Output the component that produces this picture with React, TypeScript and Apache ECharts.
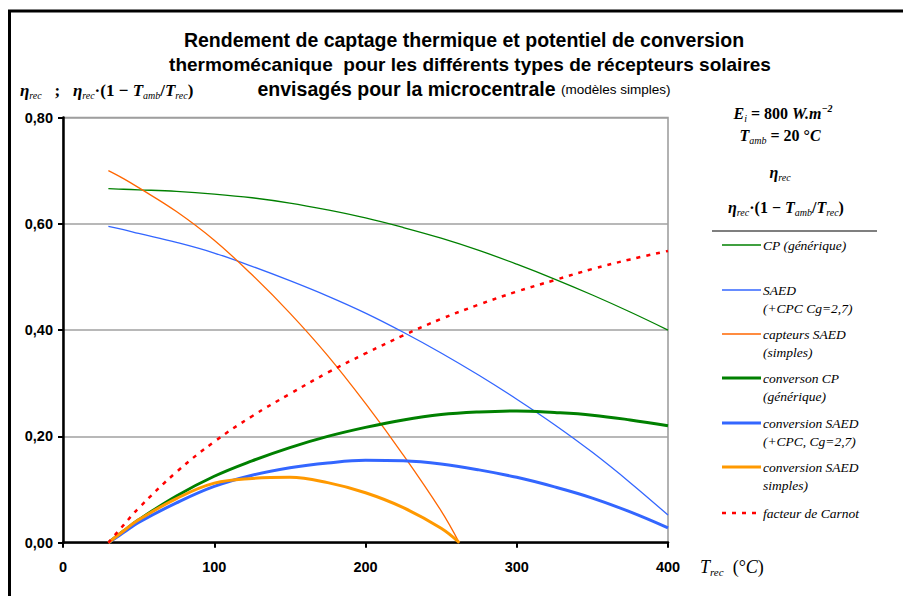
import React, { useEffect, useRef } from "react";
import * as echarts from "echarts";

// Temperature samples (°C)
const T = [30, 40, 50, 75, 100, 125, 150, 175, 200, 225, 250, 275, 300, 325, 350, 375, 400];
const T_SIMPLE = [30, 40, 50, 75, 100, 125, 150, 175, 200, 225, 250, 262];

// Thermal collection efficiency
const etaCP = [0.666, 0.665, 0.664, 0.661, 0.656, 0.649, 0.639, 0.626, 0.611, 0.593, 0.573, 0.55, 0.524, 0.496, 0.466, 0.434, 0.4];
const etaSAED = [0.595, 0.589, 0.582, 0.565, 0.545, 0.52, 0.493, 0.464, 0.432, 0.396, 0.357, 0.315, 0.27, 0.222, 0.17, 0.113, 0.052];
const etaSimple = [0.7, 0.685, 0.668, 0.623, 0.569, 0.504, 0.432, 0.352, 0.262, 0.165, 0.06, 0];

// Thermomechanical conversion potential
const convCP = [0, 0.022, 0.043, 0.088, 0.125, 0.154, 0.179, 0.2, 0.217, 0.231, 0.241, 0.246, 0.248, 0.245, 0.24, 0.231, 0.22];
const convSAED = [0, 0.019, 0.038, 0.075, 0.106, 0.127, 0.141, 0.15, 0.155, 0.154, 0.148, 0.137, 0.123, 0.105, 0.084, 0.058, 0.028];
const convSimple = [0, 0.022, 0.043, 0.083, 0.112, 0.121, 0.123, 0.113, 0.094, 0.066, 0.027, 0];

// Carnot factor
const carnot = [0, 0.033, 0.065, 0.133, 0.19, 0.238, 0.28, 0.32, 0.356, 0.39, 0.421, 0.448, 0.4725, 0.494, 0.515, 0.533, 0.549];

const X_TICKS = [0, 100, 200, 300, 400];
const Y_TICKS = [0, 0.2, 0.4, 0.6, 0.8];

const zip = (xs: number[], ys: number[]) => ys.map((y, i) => [xs[i], y]);

const SERIF = '"Liberation Serif", "Times New Roman", serif';
const SANS = '"Liberation Sans", Arial, sans-serif';

const GREEN = "#008000";
const BLUE = "#3366ff";
const ORANGE_T = "#ff6600";
const ORANGE = "#ff9900";
const RED = "#ff0000";

const subRich = (size: number, bold: boolean) => ({
  m: { fontFamily: SERIF, fontStyle: "italic", fontWeight: bold ? "bold" : "normal", fontSize: size, lineHeight: 20, fill: "#000" },
  n: { fontFamily: SERIF, fontStyle: "normal", fontWeight: bold ? "bold" : "normal", fontSize: size, lineHeight: 20, fill: "#000" },
  s: { fontFamily: SERIF, fontStyle: "italic", fontWeight: "normal", fontSize: Math.round(size * 0.6), lineHeight: 9, verticalAlign: "bottom", fill: "#000" },
  p: { fontFamily: SERIF, fontStyle: "italic", fontWeight: bold ? "bold" : "normal", fontSize: Math.round(size * 0.65), lineHeight: 10, verticalAlign: "top", fill: "#000" },
});

export default function App() {
  const ref = useRef<HTMLDivElement>(null);
  useEffect(() => {
    if (!ref.current) return;
    const chart = echarts.init(ref.current, null, { renderer: "svg" });

    const legendItems: { name: string; lines: string[]; color: string; width: number; dash?: number[]; y: number }[] = [
      { name: "CP (générique)", lines: ["CP (générique)"], color: GREEN, width: 1.3, y: 245 },
      { name: "SAED (+CPC Cg=2,7)", lines: ["SAED", "(+CPC Cg=2,7)"], color: BLUE, width: 1.3, y: 290 },
      { name: "capteurs SAED (simples)", lines: ["capteurs SAED", "(simples)"], color: ORANGE_T, width: 1.3, y: 334 },
      { name: "converson CP (générique)", lines: ["converson CP", "(générique)"], color: GREEN, width: 3, y: 378 },
      { name: "conversion SAED (+CPC, Cg=2,7)", lines: ["conversion SAED", "(+CPC, Cg=2,7)"], color: BLUE, width: 3, y: 423 },
      { name: "conversion SAED simples)", lines: ["conversion SAED", "simples)"], color: ORANGE, width: 3, y: 467 },
      { name: "facteur de Carnot", lines: ["facteur de Carnot"], color: RED, width: 2.5, dash: [4, 6], y: 513 },
    ];

    const graphics: any[] = [
      { type: "rect", shape: { x: 9.5, y: 11, width: 1000, height: 1000 }, style: { fill: "none", stroke: "#000", lineWidth: 3 }, silent: true },
      { type: "text", x: 464, y: 40, style: { text: "Rendement de captage thermique et potentiel de conversion", font: `bold 19.5px ${SANS}`, fill: "#000", textAlign: "center", textVerticalAlign: "middle" } },
      { type: "text", x: 470, y: 64, style: { text: "thermomécanique  pour les différents types de récepteurs solaires", font: `bold 19px ${SANS}`, fill: "#000", textAlign: "center", textVerticalAlign: "middle" } },
      {
        type: "text", x: 464, y: 89,
        style: {
          text: "{a|envisagés pour la microcentrale }{b|(modèles simples)}",
          textAlign: "center", textVerticalAlign: "middle",
          rich: {
            a: { fontFamily: SANS, fontWeight: "bold", fontSize: 19.5, fill: "#000" },
            b: { fontFamily: SANS, fontWeight: "normal", fontSize: 13.5, fill: "#000" },
          },
        },
      },
      {
        type: "text", x: 20, y: 90,
        style: {
          text: "{m|η}{s|rec}{n|   ;   }{m|η}{s|rec}{n|·(1 − }{m|T}{s|amb}{n|/}{m|T}{s|rec}{n|)}",
          textAlign: "left", textVerticalAlign: "middle", rich: subRich(17, true),
        },
      },
      {
        type: "text", x: 700, y: 567,
        style: { text: "{m|T}{s|rec}{n|  (°}{m|C}{n|)}", textAlign: "left", textVerticalAlign: "middle", rich: subRich(18, false) },
      },
      {
        type: "text", x: 783, y: 113,
        style: { text: "{m|E}{s|i}{n| = 800 }{m|W.m}{p|−2}", textAlign: "center", textVerticalAlign: "middle", rich: subRich(16, true) },
      },
      {
        type: "text", x: 780, y: 135,
        style: { text: "{m|T}{s|amb}{n| = 20 °}{m|C}", textAlign: "center", textVerticalAlign: "middle", rich: subRich(16, true) },
      },
      {
        type: "text", x: 780, y: 172,
        style: { text: "{m|η}{s|rec}", textAlign: "center", textVerticalAlign: "middle", rich: subRich(16, true) },
      },
      {
        type: "text", x: 786, y: 207,
        style: { text: "{m|η}{s|rec}{n|·(1 − }{m|T}{s|amb}{n|/}{m|T}{s|rec}{n|)}", textAlign: "center", textVerticalAlign: "middle", rich: subRich(16, true) },
      },
      { type: "line", shape: { x1: 712, y1: 231, x2: 877, y2: 231 }, style: { stroke: "#555", lineWidth: 1.5 } },
    ];

    legendItems.forEach((it) => {
      graphics.push({
        type: "line",
        shape: { x1: 722, y1: it.y, x2: 761, y2: it.y },
        style: { stroke: it.color, lineWidth: it.width, lineDash: it.dash },
      });
      it.lines.forEach((ln, i) => {
        graphics.push({
          type: "text", x: 763, y: it.y + i * 18.5,
          style: { text: ln, font: `italic 13.5px ${SERIF}`, fill: "#000", textAlign: "left", textVerticalAlign: "middle" },
        });
      });
    });

    const mk = (name: string, xs: number[], ys: number[], color: string, width: number, dash?: number[]) => ({
      name,
      type: "line",
      data: zip(xs, ys),
      smooth: 0.4,
      showSymbol: false,
      symbol: "none",
      lineStyle: { color, width, type: dash ? dash : "solid", cap: "butt" },
      itemStyle: { color },
      z: 3,
    });

    chart.setOption({
      animation: false,
      backgroundColor: "#fff",
      grid: { left: 63, right: 235, top: 117.5, bottom: 53.3, show: true, borderColor: "#999", borderWidth: 1.5, backgroundColor: "transparent" },
      xAxis: {
        type: "value", min: X_TICKS[0], max: X_TICKS[X_TICKS.length - 1], interval: 100,
        axisLine: { show: true, lineStyle: { color: "#000", width: 2.5 } },
        axisTick: { show: true, inside: false, length: 5, lineStyle: { color: "#000", width: 2 } },
        axisLabel: { color: "#000", fontFamily: SANS, fontWeight: "bold", fontSize: 14.5, margin: 17 },
        splitLine: { show: false },
      },
      yAxis: {
        type: "value", min: Y_TICKS[0], max: Y_TICKS[Y_TICKS.length - 1], interval: 0.2,
        axisLine: { show: true, lineStyle: { color: "#000", width: 2.5 } },
        axisTick: { show: true, inside: false, length: 5, lineStyle: { color: "#000", width: 2 } },
        axisLabel: { color: "#000", fontFamily: SANS, fontWeight: "bold", fontSize: 14.5, margin: 10, formatter: (v: number) => v.toFixed(2).replace(".", ",") },
        splitLine: { show: true, lineStyle: { color: "#a0a0a0", width: 1.5 } },
      },
      series: [
        mk("CP (générique)", T, etaCP, GREEN, 1.3),
        mk("SAED (+CPC Cg=2,7)", T, etaSAED, BLUE, 1.3),
        mk("capteurs SAED (simples)", T_SIMPLE, etaSimple, ORANGE_T, 1.3),
        mk("converson CP (générique)", T, convCP, GREEN, 3),
        mk("conversion SAED (+CPC, Cg=2,7)", T, convSAED, BLUE, 3),
        mk("conversion SAED simples)", T_SIMPLE, convSimple, ORANGE, 3),
        mk("facteur de Carnot", T, carnot, RED, 2.5, [4, 6]),
      ],
      graphic: graphics,
    });
    return () => chart.dispose();
  }, []);
  return <div ref={ref} style={{ position: "absolute", left: 0, top: 0, width: 903, height: 596, background: "#fff" }} />;
}
